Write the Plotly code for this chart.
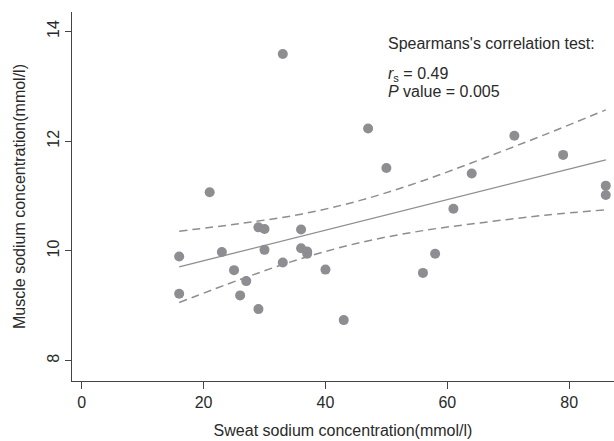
import plotly.graph_objects as go

# Data
sweat_na = [16, 16, 21, 23, 25, 26, 27, 29, 29, 30, 30, 33, 33, 36, 36, 37, 37,
            40, 43, 47, 50, 56, 58, 61, 64, 71, 79, 86, 86]
muscle_na = [9.90, 9.22, 11.07, 9.98, 9.65, 9.19, 9.45, 10.43, 8.94, 10.40, 10.02,
             13.59, 9.79, 10.39, 10.05, 9.99, 9.95, 9.66, 8.74, 12.23, 11.51,
             9.60, 9.95, 10.77, 11.41, 12.10, 11.75, 11.19, 11.02]

# Fitted line and 95% CI
fit_x = [16, 86]
fit_y = [9.71, 11.66]
ci_x = [16, 26, 36, 46, 56, 66, 76, 86]
ci_upper = [10.36, 10.50, 10.67, 10.93, 11.28, 11.69, 12.12, 12.57]
ci_lower = [9.06, 9.48, 9.86, 10.16, 10.37, 10.52, 10.65, 10.75]

x_ticks = [0, 20, 40, 60, 80]
y_ticks = [8, 10, 12, 14]

grey = "#8e8e92"
font = "Liberation Sans, Arial, sans-serif"
tcol = "#2a2a2a"

fig = go.Figure()
fig.add_trace(go.Scatter(x=ci_x, y=ci_upper, mode="lines",
                         line=dict(color=grey, width=1.5, dash="8px,5px", shape="spline"),
                         hoverinfo="skip"))
fig.add_trace(go.Scatter(x=ci_x, y=ci_lower, mode="lines",
                         line=dict(color=grey, width=1.5, dash="8px,5px", shape="spline"),
                         hoverinfo="skip"))
fig.add_trace(go.Scatter(x=fit_x, y=fit_y, mode="lines",
                         line=dict(color=grey, width=1.3), hoverinfo="skip"))
fig.add_trace(go.Scatter(x=sweat_na, y=muscle_na, mode="markers",
                         marker=dict(color=grey, size=10, line=dict(width=0))))

ann_font = dict(family=font, size=16, color=tcol)
fig.add_annotation(x=50, y=13.78, xref="x", yref="y", text="Spearmans's correlation test:",
                   showarrow=False, xanchor="left", yanchor="middle", font=ann_font)
fig.add_annotation(x=50, y=13.21, xref="x", yref="y", text="<i>r</i><sub>s</sub> = 0.49",
                   showarrow=False, xanchor="left", yanchor="middle", font=ann_font)
fig.add_annotation(x=50, y=12.90, xref="x", yref="y", text="<i>P</i> value = 0.005",
                   showarrow=False, xanchor="left", yanchor="middle", font=ann_font)

fig.update_layout(
    width=614, height=441,
    margin=dict(l=72, r=0, t=12, b=60),
    paper_bgcolor="white", plot_bgcolor="white",
    showlegend=False,
    font=dict(family=font, color=tcol, size=16),
    xaxis=dict(range=[-1.59, 87.35], tickvals=x_ticks, ticks="outside", ticklen=7,
               tickcolor="#444", showline=True, linecolor="#444", linewidth=1,
               showgrid=False, zeroline=False, tickfont=dict(size=16, color=tcol),
               title=dict(text="Sweat sodium concentration(mmol/l)", standoff=14,
                          font=dict(size=16, color=tcol))),
    yaxis=dict(range=[7.63, 14.354], tickvals=y_ticks, ticks="outside", ticklen=6,
               tickcolor="#444", showline=True, linecolor="#444", linewidth=1,
               showgrid=False, zeroline=False, tickangle=-90, ticklabelstandoff=0,
               tickfont=dict(size=16, color=tcol),
               title=dict(text="Muscle sodium concentration(mmol/l)", standoff=14,
                          font=dict(size=16, color=tcol))),
)

fig.write_html("out.html")
